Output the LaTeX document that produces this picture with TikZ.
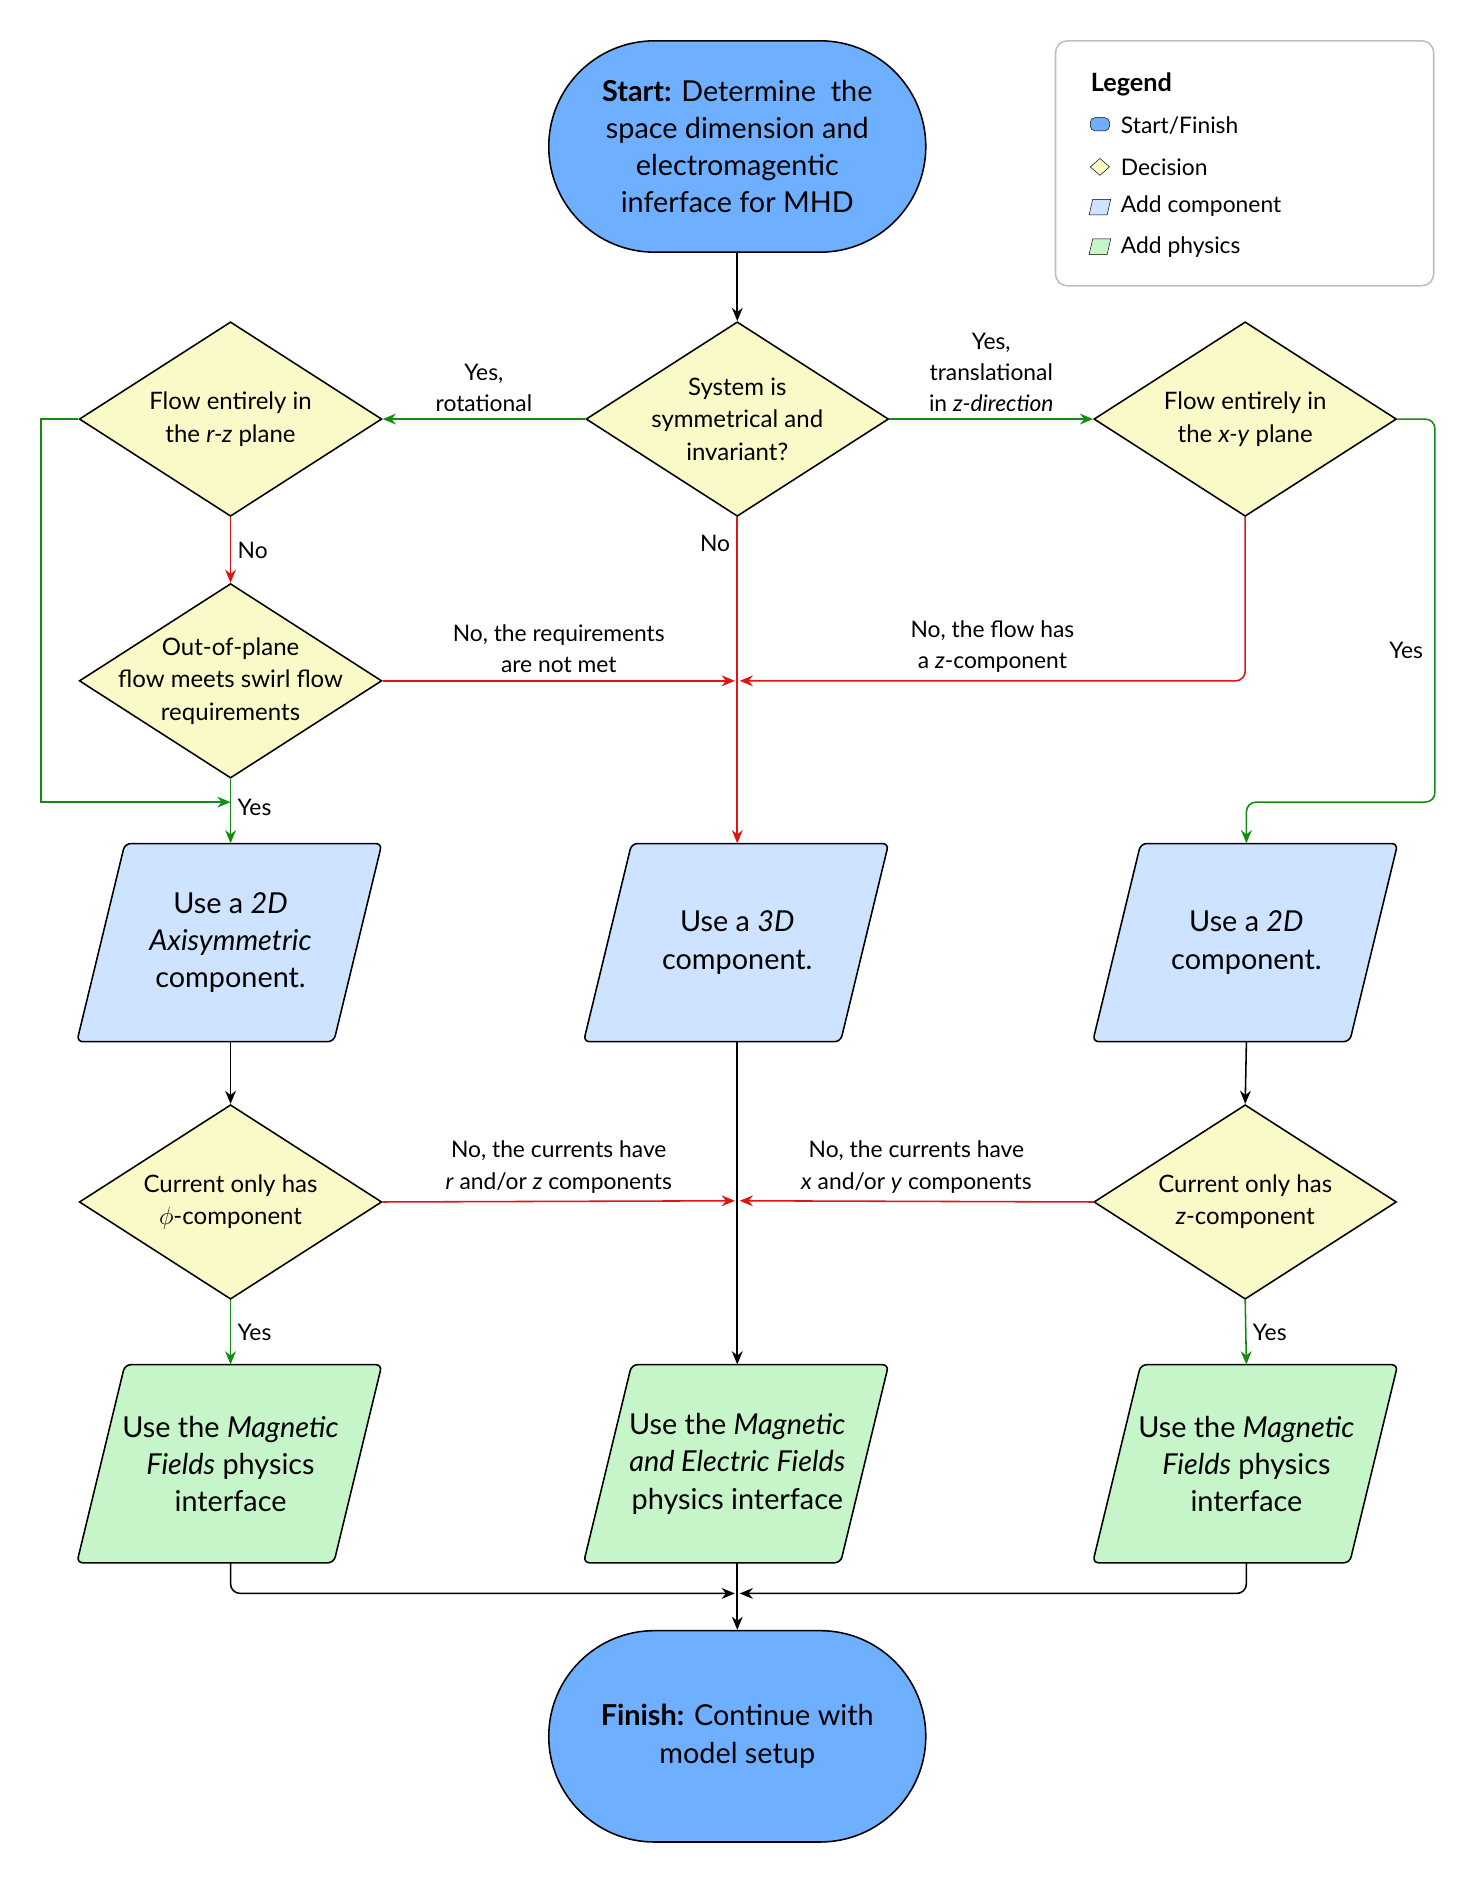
\documentclass[tikz,border=0pt]{standalone}
\usepackage{fontspec}
\setmainfont{Lato}
\usetikzlibrary{shapes.geometric,arrows.meta}
\definecolor{startc}{RGB}{110,175,255}
\definecolor{decc}{RGB}{250,250,200}
\definecolor{compc}{RGB}{205,227,255}
\definecolor{physc}{RGB}{197,245,200}
\definecolor{redc}{RGB}{225,20,20}
\definecolor{greenc}{RGB}{20,140,20}
\newcommand\mypara[5]{\draw[rounded corners=5,fill=#4,line width=1.3] (#2-88,#3-82.5) -- (#2+126,#3-82.5) -- (#2+86,#3+82.5) -- (#2-128,#3+82.5) -- cycle;
\node[minimum width=254,minimum height=165,inner sep=0,align=center,font=\fontsize{24}{31}\selectfont] (#1) at (#2,#3) {#5};}
\begin{document}
\begin{tikzpicture}[x=1pt,y=-1pt,
 dec/.style={diamond,draw,fill=decc,line width=1.3,minimum width=252,minimum height=162,inner sep=0,label={[align=center,font=\fontsize{20}{27}\selectfont]center:#1}},
 term/.style={draw,fill=startc,line width=1.3,rounded corners=88,minimum width=314,minimum height=176,align=center,font=\fontsize{24}{31}\selectfont},
 lab/.style={align=center,font=\fontsize{19}{26}\selectfont},
 con/.style={line width=1.3,-{Stealth[length=11,width=9]}},
 ra/.style={con,draw=redc,-{Stealth[length=11,width=9,fill=redc]}},
 ga/.style={con,draw=greenc,-{Stealth[length=11,width=9,fill=greenc]}}]
\useasboundingbox (0,0) rectangle (1226,1564);
\fill[white] (0,0) rectangle (1226,1564);
% legend
\draw[rounded corners=10,draw=black!25,line width=1.3] (879,34) rectangle (1194,238);
\node[anchor=west,font=\bfseries\fontsize{21}{26}\selectfont] (lg) at (905,70) {Legend};
\draw[fill=startc,rounded corners=4] (908,98) rectangle (924,109);
\node[anchor=west,lab] (l1) at (930,105) {Start/Finish};
\draw[fill=decc] (916,132) -- (924,139) -- (916,146) -- (908,139) -- cycle;
\node[anchor=west,lab] (l2) at (930,139) {Decision};
\draw[fill=compc] (910,166) -- (925,166) -- (922,179) -- (907,179) -- cycle;
\node[anchor=west,lab] (l3) at (930,172) {Add component};
\draw[fill=physc] (910,199) -- (925,199) -- (922,212) -- (907,212) -- cycle;
\node[anchor=west,lab] (l4) at (930,206) {Add physics};
% nodes
\node[term] (start) at (614,122) {\textbf{Start:} Determine\ \ the\\space dimension and\\electromagentic\\inferface for MHD};
\node[dec={System is\\symmetrical and\\invariant?}] (sys) at (614,349) {};
\node[dec={Flow entirely in\\the \textit{r-z} plane}] (rz) at (192,349) {};
\node[dec={Flow entirely in\\the \textit{x-y} plane}] (xy) at (1037,349) {};
\node[dec={Out-of-plane\\flow meets swirl flow\\requirements}] (oop) at (192,567) {};
\mypara{c2a}{192}{785}{compc}{Use a \textit{2D}\\\textit{Axisymmetric}\\component.}
\mypara{c3}{614}{785}{compc}{Use a \textit{3D}\\component.}
\mypara{c2}{1038}{785}{compc}{Use a \textit{2D}\\component.}
\node[dec={Current only has\\$\phi$-component}] (cl) at (192,1001) {};
\node[dec={Current only has\\\textit{z}-component}] (cr) at (1037,1001) {};
\mypara{pl}{192}{1219}{physc}{Use the \textit{Magnetic}\\\textit{Fields} physics\\interface}
\mypara{pm}{614}{1219}{physc}{Use the \textit{Magnetic}\\\textit{and Electric Fields}\\physics interface}
\mypara{pr}{1038}{1219}{physc}{Use the \textit{Magnetic}\\\textit{Fields} physics\\interface}
\node[term] (fin) at (614,1446) {\textbf{Finish:} Continue with\\model setup};
\coordinate (m1) at (612,567);
\coordinate (m1r) at (616,567);
\coordinate (m2) at (612,1000);
\coordinate (m2r) at (616,1000);
\coordinate (m3) at (612,1327);
\coordinate (m3r) at (616,1327);
\coordinate (ly) at (192,668);
% connectors
\draw[con] (start) -- (sys);
\draw[ga] (sys.west) -- (rz.east) node[lab,pos=0.5,above=2] {Yes,\\rotational};
\draw[ga] (sys.east) -- (xy.west) node[lab,pos=0.5,above=2] {Yes,\\translational\\in \textit{z-direction}};
\draw[ra] (sys.south) -- (c3.north) node[lab,pos=0.08,left=2] {No};
\draw[ra] (rz.south) -- (oop.north) node[lab,midway,right=2] {No};
\draw[ga] (rz.west) -| (34,668) -- (ly);
\draw[ga] (oop.south) -- (c2a.north) node[lab,pos=0.45,right=2] {Yes};
\draw[ra] (oop.east) -- (m1) node[lab,midway,above=3] {No, the requirements\\are not met};
\draw[ra,rounded corners=8] (xy.south) |- (m1r) node[lab,pos=0.75,above=3] {No, the flow has\\a \textit{z}-component};
\draw[ga,rounded corners=8] (xy.east) -| (1195,668) node[lab,pos=0.75,right=-12] {} -| (c2.north);
\node[lab] (yr) at (1171,542) {Yes};
\draw[con] (c2a.south) -- (cl.north);
\draw[con] (c2.south) -- (cr.north);
\draw[con] (c3.south) -- (pm.north);
\draw[ra] (cl.east) -- (m2) node[lab,midway,above=3] {No, the currents have\\\textit{r} and/or \textit{z} components};
\draw[ra] (cr.west) -- (m2r) node[lab,midway,above=3] {No, the currents have\\\textit{x} and/or \textit{y} components};
\draw[ga] (cl.south) -- (pl.north) node[lab,midway,right=2] {Yes};
\draw[ga] (cr.south) -- (pr.north) node[lab,midway,right=2] {Yes};
\draw[con,rounded corners=8] (pl.south) |- (m3);
\draw[con,rounded corners=8] (pr.south) |- (m3r);
\draw[con] (pm.south) -- (fin.north);
\end{tikzpicture}
\end{document}
